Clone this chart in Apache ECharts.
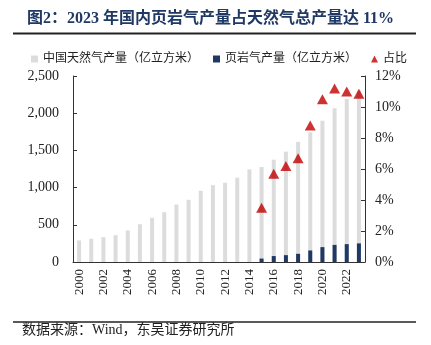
<!DOCTYPE html>
<html>
<head>
<meta charset="utf-8">
<script src="https://cdn.jsdelivr.net/npm/echarts@6/dist/echarts.min.js"></script>
<style>
  html, body { margin: 0; padding: 0; background: #fff; }
  #chart { width: 431px; height: 345px; }
</style>
</head>
<body>
<div id="chart"></div>
<script>
// 2000-2023 natural gas output, shale gas output (亿立方米) and shale share (%)
var years = ['2000','2001','2002','2003','2004','2005','2006','2007','2008','2009','2010','2011',
             '2012','2013','2014','2015','2016','2017','2018','2019','2020','2021','2022','2023'];
var totalGas = [290, 312, 334, 360, 424, 508, 594, 670, 772, 836, 957, 1033,
                1066, 1133, 1245, 1277, 1375, 1483, 1615, 1743, 1900, 2068, 2192, 2306];
var shaleGas = ['-', '-', '-', '-', '-', '-', '-', '-', '-', '-', '-', '-',
                '-', '-', '-', 46, 80, 92, 110, 155, 200, 230, 240, 250];
var shareRatio = ['-', '-', '-', '-', '-', '-', '-', '-', '-', '-', '-', '-',
                  '-', '-', '-', 3.5, 5.7, 6.2, 6.7, 8.8, 10.5, 11.2, 11.0, 10.85];
var leftTicks = { min: 0, max: 2500, interval: 500 };
var rightTicks = { min: 0, max: 12, interval: 2 };

var serif = '"Liberation Serif", "Times New Roman", serif';
var cjk = '"Liberation Serif", "Noto Sans CJK SC", serif';

var chart = echarts.init(document.getElementById('chart'), null, { renderer: 'canvas' });

chart.setOption({
  animation: false,
  backgroundColor: '#ffffff',
  title: {
    text: '图2：2023 年国内页岩气产量占天然气总产量达 11%',
    left: 22,
    top: 6,
    textStyle: { fontFamily: cjk, fontSize: 16, fontWeight: 'bold', color: '#1F3864' }
  },
  legend: {
    top: 48,
    left: 26,
    itemWidth: 7,
    itemHeight: 7,
    itemGap: 14,
    textStyle: { fontFamily: cjk, fontSize: 12, color: '#222' },
    data: [
      { name: '中国天然气产量（亿立方米）', icon: 'rect' },
      { name: '页岩气产量（亿立方米）', icon: 'rect' },
      { name: '占比', icon: 'triangle' }
    ]
  },
  grid: { left: 73, right: 66, top: 76, bottom: 83 },
  xAxis: {
    type: 'category',
    data: years,
    axisLine: { lineStyle: { color: '#333', width: 1 } },
    axisTick: { show: false },
    axisLabel: {
      interval: 1,
      rotate: 90,
      margin: 7,
      fontFamily: serif,
      fontSize: 13,
      color: '#222'
    }
  },
  yAxis: [
    {
      type: 'value',
      min: leftTicks.min,
      max: leftTicks.max,
      interval: leftTicks.interval,
      splitLine: { show: false },
      axisLine: { show: true, lineStyle: { color: '#333' } },
      axisTick: { show: true, inside: true, length: 4, lineStyle: { color: '#333' } },
      axisLabel: {
        margin: 14,
        fontFamily: serif,
        fontSize: 14,
        color: '#222',
        formatter: function (v) { return v.toLocaleString('en-US'); }
      }
    },
    {
      type: 'value',
      min: rightTicks.min,
      max: rightTicks.max,
      interval: rightTicks.interval,
      splitLine: { show: false },
      axisLine: { show: true, lineStyle: { color: '#333' } },
      axisTick: { show: true, inside: true, length: 4, lineStyle: { color: '#333' } },
      axisLabel: {
        margin: 10,
        fontFamily: serif,
        fontSize: 14,
        color: '#222',
        formatter: '{value}%'
      }
    }
  ],
  series: [
    {
      name: '中国天然气产量（亿立方米）',
      type: 'bar',
      yAxisIndex: 0,
      data: totalGas,
      barWidth: 4,
      barGap: '-100%',
      itemStyle: { color: '#DCDCDC' }
    },
    {
      name: '页岩气产量（亿立方米）',
      type: 'bar',
      yAxisIndex: 0,
      data: shaleGas,
      barWidth: 4,
      barGap: '-100%',
      itemStyle: { color: '#1F3864' }
    },
    {
      name: '占比',
      type: 'scatter',
      yAxisIndex: 1,
      data: shareRatio,
      symbol: 'triangle',
      symbolSize: [11, 10],
      itemStyle: { color: '#C00000' },
      z: 5
    }
  ],
  graphic: [
    {
      type: 'line',
      shape: { x1: 13, y1: 33.5, x2: 416, y2: 33.5 },
      style: { stroke: '#222', lineWidth: 2 }
    },
    {
      type: 'line',
      shape: { x1: 13, y1: 322, x2: 416, y2: 322 },
      style: { stroke: '#222', lineWidth: 1.5 }
    },
    {
      type: 'text',
      left: 22,
      top: 323,
      style: {
        text: '数据来源：Wind，东吴证券研究所',
        fontFamily: cjk,
        fontSize: 14,
        fill: '#222'
      }
    }
  ]
});
</script>
</body>
</html>
